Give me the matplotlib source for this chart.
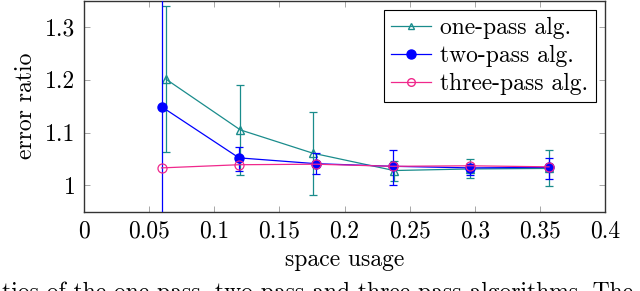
import matplotlib
matplotlib.use("Agg")
import matplotlib.pyplot as plt
from matplotlib.lines import Line2D
import numpy as np

plt.rcParams['font.family'] = ['cmr10', 'DejaVu Serif']
plt.rcParams['axes.formatter.use_mathtext'] = True
plt.rcParams['mathtext.fontset'] = 'cm'

# data
x_one = [0.063, 0.120, 0.1755, 0.238, 0.2965, 0.357]
y_one = [1.201, 1.105, 1.061, 1.028, 1.031, 1.032]
lo_one = [1.064, 1.020, 0.981, 1.008, 1.013, 0.998]
hi_one = [1.339, 1.190, 1.138, 1.047, 1.050, 1.067]

x_two = [0.0595, 0.119, 0.178, 0.2375, 0.2965, 0.357]
y_two = [1.149, 1.052, 1.041, 1.036, 1.033, 1.034]
lo_two = [0.750, 1.028, 1.022, 1.000, 1.019, 1.012]
hi_two = [1.550, 1.072, 1.062, 1.067, 1.041, 1.052]

x_three = [0.0595, 0.119, 0.178, 0.2375, 0.2965, 0.357]
y_three = [1.033, 1.039, 1.040, 1.036, 1.037, 1.035]

labels = ['one-pass alg.', 'two-pass alg.', 'three-pass alg.']
xticks = [0, 0.05, 0.1, 0.15, 0.2, 0.25, 0.3, 0.35, 0.4]
xticklabels = ['0', '0.05', '0.1', '0.15', '0.2', '0.25', '0.3', '0.35', '0.4']
yticks = [1.0, 1.1, 1.2, 1.3]
yticklabels = ['1', '1.1', '1.2', '1.3']

teal = '#1a8c8c'
blue = '#0000ff'
pink = '#f0288c'
FS = 17

fig = plt.figure(figsize=(6.4, 2.91), dpi=100)
ax = fig.add_axes([0.13125, 0.2725, 0.8141, 0.7255])

def yerr(y, lo, hi):
    return [np.array(y) - np.array(lo), np.array(hi) - np.array(y)]

ax.errorbar(x_one, y_one, yerr=yerr(y_one, lo_one, hi_one), color=teal,
            marker='^', markersize=6, markerfacecolor='none', markeredgecolor=teal,
            linewidth=0.9, elinewidth=0.9, capsize=3, capthick=0.9, zorder=3)
ax.errorbar(x_two, y_two, yerr=yerr(y_two, lo_two, hi_two), color=blue,
            marker='o', markersize=6.5, linewidth=0.9, elinewidth=0.9,
            capsize=3, capthick=0.9, zorder=4)
ax.plot(x_three, y_three, color=pink, marker='o', markersize=6.5,
        markerfacecolor='none', markeredgecolor=pink, markeredgewidth=0.9,
        linewidth=0.9, zorder=5)

ax.set_xlim(0, 0.4)
ax.set_ylim(0.95, 1.35)
ax.set_xticks(xticks)
ax.set_xticklabels(xticklabels)
ax.set_yticks(yticks)
ax.set_yticklabels(yticklabels)
ax.tick_params(direction='in', top=True, right=True, length=4, width=0.6,
               color='#999999', labelsize=FS, pad=6)
for s in ax.spines.values():
    s.set_linewidth(1.0)
    s.set_color('#333333')

ax.set_xlabel('space usage', fontsize=FS, labelpad=5)
ax.set_ylabel('error ratio', fontsize=FS, labelpad=6)

handles = [
    Line2D([], [], color=teal, marker='^', markersize=5, markerfacecolor='none',
           markeredgecolor=teal, linewidth=0.9),
    Line2D([], [], color=blue, marker='o', markersize=6.5, linewidth=0.9),
    Line2D([], [], color=pink, marker='o', markersize=5.5, markerfacecolor='none',
           markeredgecolor=pink, linewidth=0.9),
]
leg = ax.legend(handles, labels, loc='upper right', fontsize=FS, frameon=True,
                fancybox=False, edgecolor='black', framealpha=1, borderpad=0.3,
                labelspacing=0.25, handlelength=1.7, handletextpad=0.4,
                borderaxespad=0.4)
leg.get_frame().set_linewidth(0.8)

fig.text(-0.03, -0.045, 'ratios of the one-pass, two-pass and three-pass algorithms. The',
         fontsize=17, ha='left', va='bottom')

fig.savefig('out.png', dpi=100)
